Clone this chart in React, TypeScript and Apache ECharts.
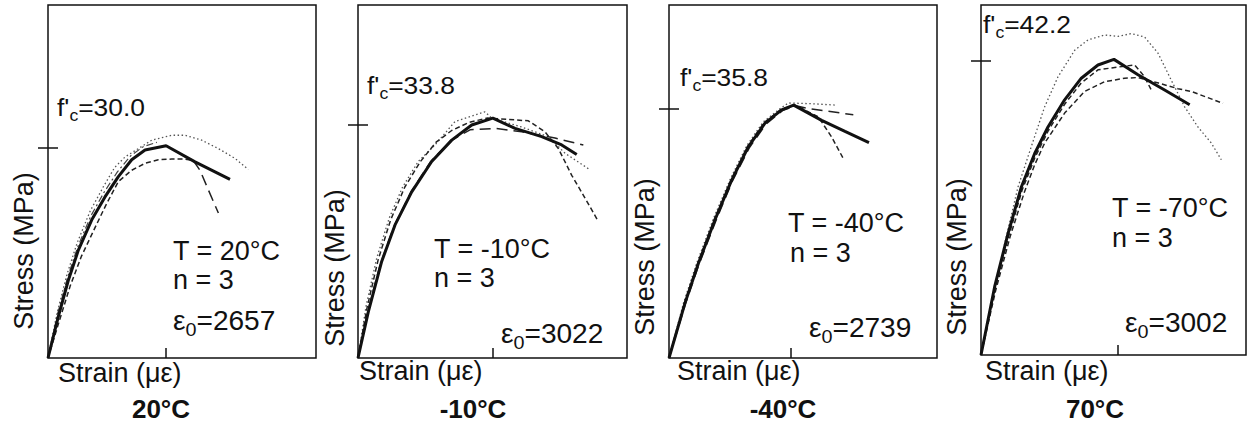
import React, { useEffect, useRef } from 'react';
import * as echarts from 'echarts';

// ---------- data ----------
const T_LABELS = ['20°C', '-10°C', '-40°C', '-70°C'];
const PANEL_TITLES = ['20°C', '-10°C', '-40°C', '70°C'];
const FC = ['30.0', '33.8', '35.8', '42.2'];
const EPS0 = [2657, 3022, 2739, 3002];
const N_SPEC = [3, 3, 3, 3];
const X_MAX = [6030, 6030, 6020, 5820];
const Y_MAX = [50.4, 51.2, 50.8, 50.2];

// 20°C
const P1_AVG = [[0, 0], [232, 5.9], [458, 11.1], [683, 15.4], [982, 19.7], [1282, 23.0], [1583, 25.9], [1883, 28.3], [2183, 29.7], [2657, 30.3], [3308, 28.0], [4095, 25.5]];
const P1_DOT = [[0, 0], [200, 6.3], [430, 12.0], [660, 16.5], [950, 21.0], [1250, 24.5], [1500, 27.2], [1733, 28.7], [2033, 29.9], [2333, 31.1], [2783, 31.8], [3083, 31.8], [3458, 31.1], [3833, 29.9], [4208, 28.5], [4508, 26.9]];
const P1_DASH = [[0, 0], [250, 5.2], [500, 10.3], [750, 14.5], [1050, 18.5], [1300, 21.8], [1583, 25.2], [1883, 26.8], [2183, 27.8], [2483, 28.3], [2783, 28.4], [3083, 28.4], [3270, 28.2]];
const P1_DROP = [[3270, 28.2], [3420, 26.8], [3608, 24.0], [3833, 20.7]];
const P1_DASHDOT = [[0, 0], [215, 6.3], [445, 11.6], [670, 15.9], [965, 20.3], [1265, 23.7], [1565, 26.6], [1865, 28.9], [2150, 30.2], [2450, 30.8]];

// -10°C
const P2_AVG = [[0, 0], [231, 6.7], [531, 14.0], [830, 19.3], [1204, 24.1], [1652, 28.5], [2101, 31.6], [2549, 33.8], [3022, 34.8], [3520, 33.3], [4118, 32.1], [4566, 30.9], [4903, 29.5]];
const P2_DOT = [[0, 0], [180, 7.5], [420, 14.5], [700, 20.3], [1000, 24.8], [1350, 28.5], [1726, 30.9], [2175, 34.3], [2549, 35.1], [2847, 35.7], [2997, 34.8], [3670, 33.5], [4267, 32.1], [4641, 29.7], [5201, 27.3]];
const P2_DASH = [[0, 0], [200, 7.2], [450, 14.2], [730, 20.0], [1050, 24.8], [1400, 28.5], [1750, 31.3], [2100, 33.0], [2500, 34.2], [2900, 34.8], [3146, 34.7], [3819, 34.4], [4193, 32.8], [4491, 30.4], [4791, 26.5], [5089, 23.2], [5388, 19.8]];
const P2_LONG = [[0, 0], [220, 6.8], [500, 13.6], [800, 19.0], [1180, 24.0], [1630, 28.5], [2080, 31.5], [2511, 33.1], [3072, 33.3], [3670, 32.8], [4417, 31.9], [5051, 30.9]];

// -40°C
const P3_AVG = [[0, 0], [359, 7.9], [659, 13.6], [1033, 19.9], [1408, 25.6], [1782, 30.4], [2156, 33.8], [2531, 35.7], [2800, 36.4], [3429, 34.2], [3953, 32.6], [4492, 31.0]];
const P3_DOT = [[0, 0], [330, 8.0], [630, 13.8], [1000, 20.1], [1380, 25.8], [1750, 30.6], [2120, 34.0], [2500, 35.9], [2680, 36.7], [3200, 36.6], [3728, 36.4]];
const P3_LONG = [[0, 0], [370, 7.8], [670, 13.4], [1050, 19.7], [1420, 25.4], [1800, 30.2], [2170, 33.6], [2550, 35.6], [2850, 36.3], [3129, 35.9], [4140, 35.0]];
const P3_DASH = [[0, 0], [350, 8.0], [650, 13.7], [1020, 20.0], [1400, 25.7], [1770, 30.5], [2140, 33.9], [2520, 35.8], [2830, 36.4], [3354, 34.7], [3654, 31.8], [3915, 28.7]];

// -70°C
const P4_AVG = [[0, 0], [300, 9.8], [593, 17.4], [886, 24.1], [1179, 28.9], [1471, 32.7], [1837, 36.6], [2203, 39.7], [2569, 41.6], [2920, 42.4], [3448, 40.2], [4033, 38.0], [4583, 35.9]];
const P4_DOT = [[0, 0], [226, 7.4], [556, 17.0], [813, 24.1], [1105, 29.9], [1398, 35.6], [1691, 39.9], [2057, 43.7], [2350, 45.2], [2716, 45.9], [3009, 45.7], [3301, 46.1], [3594, 45.6], [3887, 43.3], [4180, 39.4], [4472, 35.6], [4765, 32.7], [5058, 30.4], [5278, 28.0]];
const P4_DASH = [[0, 0], [320, 9.2], [640, 17.0], [950, 23.3], [1180, 27.3], [1398, 30.4], [1837, 34.7], [2276, 37.8], [2716, 39.2], [3155, 39.7], [3448, 39.8], [3900, 39.0], [4327, 38.2], [4619, 37.8], [5315, 36.1]];
const P4_DASH2 = [[0, 0], [310, 9.6], [610, 17.1], [900, 23.6], [1190, 28.4], [1480, 32.2], [1840, 36.0], [2200, 39.0], [2569, 40.9], [3009, 41.3], [3375, 41.6], [3594, 39.9], [3740, 38.0]];

const PANEL_CURVES = [
  [['dot', P1_DOT], ['dashdot', P1_DASHDOT], ['dash', P1_DASH], ['longdash', P1_DROP], ['avg', P1_AVG]],
  [['dot', P2_DOT], ['longdash', P2_LONG], ['dash', P2_DASH], ['avg', P2_AVG]],
  [['dot', P3_DOT], ['longdash', P3_LONG], ['dash', P3_DASH], ['avg', P3_AVG]],
  [['dot', P4_DOT], ['dash', P4_DASH], ['dash', P4_DASH2], ['avg', P4_AVG]],
];

// ---------- layout / style ----------
const GRIDS = [
  { left: 48, top: 5, width: 268, height: 353 },
  { left: 358, top: 5, width: 269, height: 353 },
  { left: 669, top: 5, width: 268, height: 353 },
  { left: 981, top: 5, width: 265, height: 350 },
];

const LABEL_POS = [
  { fc: [57, 116], t: [173, 260], n: [173, 289], eps: [173, 330], strain: [58, 382], stress: [24, 251], title: [161, 418] },
  { fc: [367, 94], t: [434, 258], n: [434, 287], eps: [501, 343], strain: [359, 380], stress: [335, 268], title: [473, 418] },
  { fc: [680, 86], t: [788, 232], n: [790, 262], eps: [809, 337], strain: [677, 380], stress: [645, 257], title: [783, 418] },
  { fc: [983, 33], t: [1112, 217], n: [1112, 247], eps: [1125, 332], strain: [985, 380], stress: [957, 257], title: [1095, 418] },
];

const LINE_STYLES: any = {
  avg: { type: 'solid', width: 3, color: '#111' },
  dot: { type: [1.5, 2.5], width: 1.3, color: '#555' },
  dash: { type: [5, 3], width: 1.5, color: '#222' },
  longdash: { type: [11, 6], width: 1.5, color: '#222' },
  dashdot: { type: [7, 3, 2, 3], width: 1.2, color: '#444' },
};

const FAMILY = '"Liberation Sans", Arial, sans-serif';
const TXT = '#111';

let measureCtx: any = null;
function tw(text: string, font: string) {
  if (!measureCtx) measureCtx = document.createElement('canvas').getContext('2d');
  measureCtx.font = font;
  return measureCtx.measureText(text).width;
}

type Part = { t: string; fs: number; dy?: number; bold?: boolean };

function lineGroup(parts: Part[], x0: number, baseline: number, scaleX = 1) {
  let x = 0;
  const children: any[] = [];
  parts.forEach((p) => {
    const font = `${p.bold ? 'bold ' : ''}${p.fs}px ${FAMILY}`;
    children.push({
      type: 'text',
      x,
      y: baseline + (p.dy || 0) - 0.3465 * p.fs,
      style: {
        text: p.t, font, fill: TXT,
        align: 'left', verticalAlign: 'middle', textAlign: 'left', textVerticalAlign: 'middle',
      },
    });
    x += tw(p.t, font);
  });
  return { type: 'group', x: x0, y: 0, scaleX, children };
}

function centeredText(text: string, cx: number, baseline: number, fs: number, bold: boolean) {
  return {
    type: 'text',
    x: cx,
    y: baseline - 0.3465 * fs,
    style: {
      text, font: `${bold ? 'bold ' : ''}${fs}px ${FAMILY}`, fill: TXT,
      align: 'center', verticalAlign: 'middle', textAlign: 'center', textVerticalAlign: 'middle',
    },
  };
}

function buildOption() {
  const grid: any[] = [];
  const xAxis: any[] = [];
  const yAxis: any[] = [];
  const series: any[] = [];
  const graphic: any[] = [];
  const tickLine = { color: '#111', width: 1.5 };

  GRIDS.forEach((g, i) => {
    grid.push({ ...g, show: true, borderColor: '#111', borderWidth: 1.5, backgroundColor: 'transparent', containLabel: false });
    xAxis.push({
      gridIndex: i, type: 'value', min: 0, max: X_MAX[i],
      axisLine: { show: false }, splitLine: { show: false }, axisLabel: { show: false },
      axisTick: { show: true, inside: true, length: 10, customValues: [EPS0[i]], lineStyle: tickLine },
    });
    yAxis.push({
      gridIndex: i, type: 'value', min: 0, max: Y_MAX[i], position: 'left',
      axisLine: { show: false }, splitLine: { show: false }, axisLabel: { show: false },
      axisTick: { show: true, inside: false, length: 10, customValues: [Number(FC[i])], lineStyle: tickLine },
    });
    yAxis.push({
      gridIndex: i, type: 'value', min: 0, max: Y_MAX[i], position: 'left',
      axisLine: { show: false }, splitLine: { show: false }, axisLabel: { show: false },
      axisTick: { show: true, inside: true, length: 10, customValues: [Number(FC[i])], lineStyle: tickLine },
    });

    PANEL_CURVES[i].forEach(([kind, data]: any) => {
      series.push({
        type: 'line', xAxisIndex: i, yAxisIndex: 2 * i, data,
        showSymbol: false, symbol: 'none', smooth: false,
        lineStyle: LINE_STYLES[kind], z: kind === 'avg' ? 5 : 3, silent: true,
      });
    });

    const pos = LABEL_POS[i];
    graphic.push(lineGroup([
      { t: "f'", fs: 24 }, { t: 'c', fs: 16, dy: 5 }, { t: '=' + FC[i], fs: 24 },
    ], pos.fc[0], pos.fc[1], 1.1));
    graphic.push(lineGroup([{ t: 'T = ' + T_LABELS[i], fs: 27 }], pos.t[0], pos.t[1]));
    graphic.push(lineGroup([{ t: 'n = ' + N_SPEC[i], fs: 27 }], pos.n[0], pos.n[1]));
    graphic.push(lineGroup([
      { t: 'ε', fs: 27 }, { t: '0', fs: 19, dy: 6 }, { t: '=' + EPS0[i], fs: 27 },
    ], pos.eps[0], pos.eps[1], 1.04));
    graphic.push(lineGroup([{ t: 'Strain (με)', fs: 27 }], pos.strain[0], pos.strain[1]));
    graphic.push({
      type: 'text', x: pos.stress[0], y: pos.stress[1], rotation: Math.PI / 2,
      style: {
        text: 'Stress (MPa)', font: `27px ${FAMILY}`, fill: TXT,
        align: 'center', verticalAlign: 'middle', textAlign: 'center', textVerticalAlign: 'middle',
      },
    });
    graphic.push(centeredText(PANEL_TITLES[i], pos.title[0], pos.title[1], 26, true));
  });

  return { animation: false, backgroundColor: '#fff', grid, xAxis, yAxis, series, graphic };
}

export default function App() {
  const ref = useRef<HTMLDivElement>(null);
  useEffect(() => {
    if (!ref.current) return;
    const chart = echarts.init(ref.current, undefined, { renderer: 'svg' });
    chart.setOption(buildOption() as any);
    return () => chart.dispose();
  }, []);
  return (
    <div
      ref={ref}
      style={{ position: 'fixed', left: 0, top: 0, width: 1250, height: 425, background: '#fff' }}
    />
  );
}
